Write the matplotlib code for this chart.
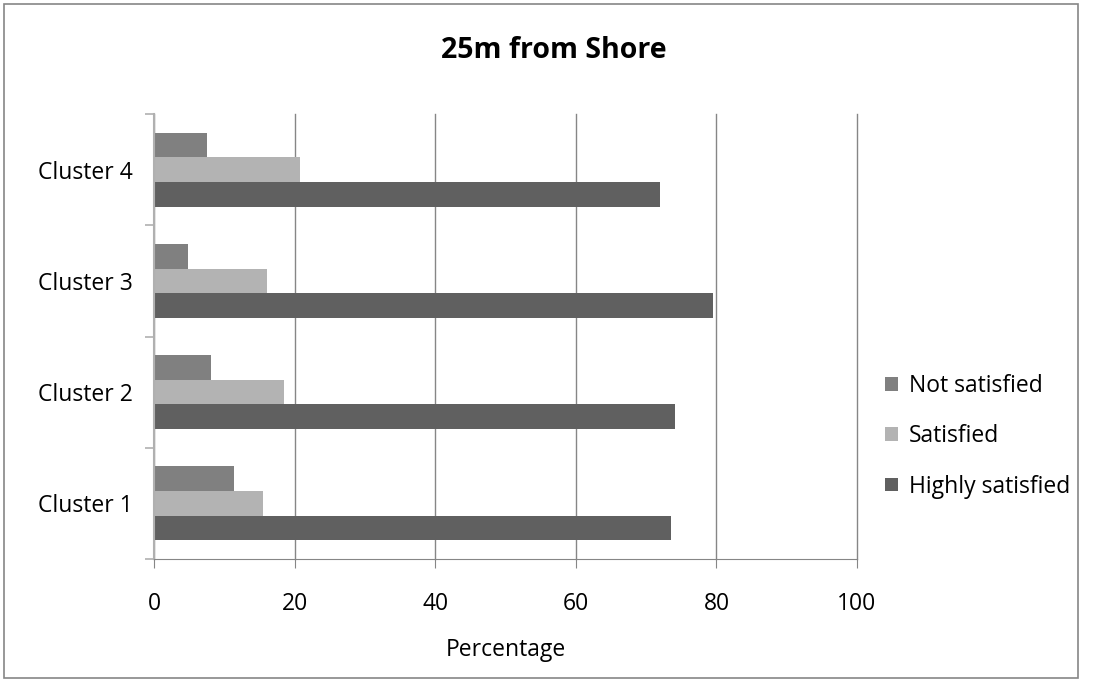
import matplotlib.pyplot as plt
import numpy as np
from matplotlib.patches import Rectangle

plt.rcParams['font.family'] = ['Open Sans', 'DejaVu Sans']

clusters = ['Cluster 1', 'Cluster 2', 'Cluster 3', 'Cluster 4']
not_satisfied = [11.4, 8.1, 4.8, 7.5]
satisfied = [15.5, 18.5, 16.1, 20.8]
highly_satisfied = [73.5, 74.1, 79.5, 72.0]
xticks = [0, 20, 40, 60, 80, 100]

fig = plt.figure(figsize=(10.94, 6.88), dpi=100)

# outer chart border
fig.patches.append(Rectangle((4 / 1094, 10 / 688), 1074 / 1094, 674 / 688,
                             transform=fig.transFigure, fill=False,
                             edgecolor='#868686', linewidth=1.2))

ax = fig.add_axes([0.1408, 0.1875, 0.6426, 0.6468])

y = np.arange(len(clusters))
h = 0.222
ax.barh(y + h, not_satisfied, height=h, color='#808080', label='Not satisfied')
ax.barh(y, satisfied, height=h, color='#b3b3b3', label='Satisfied')
ax.barh(y - h, highly_satisfied, height=h, color='#606060', label='Highly satisfied')

ax.set_xlim(0, 100)
ax.set_ylim(-0.5, 3.5)
ax.set_xticks(xticks)
ax.set_xticklabels([str(t) for t in xticks], fontsize=16.5)
ax.set_yticks(y)
ax.set_yticklabels(clusters, fontsize=16.5)
ax.set_yticks(np.arange(-0.5, 4.0, 1.0), minor=True)
ax.tick_params(axis='y', which='major', length=0, pad=15)
ax.tick_params(axis='y', which='minor', length=6.5, color='#b0b0b0', width=1.2)
ax.tick_params(axis='x', which='major', length=6.5, color='#868686', pad=17)

ax.grid(axis='x', color='#868686', linewidth=1)
for line in ax.xaxis.get_gridlines():
    line.set_clip_on(False)
ax.set_axisbelow(True)
for side in ['top', 'right']:
    ax.spines[side].set_visible(False)
ax.spines['left'].set_color('#b0b0b0')
ax.spines['left'].set_linewidth(1.5)
ax.spines['bottom'].set_color('#868686')

ax.set_xlabel('Percentage', fontsize=16.5, labelpad=16)
fig.text(0.506, 0.926, '25m from Shore', fontsize=20.5, fontweight='bold',
         ha='center', va='center')

handles, labels = ax.get_legend_handles_labels()
fig.legend(handles, labels, loc='center left', bbox_to_anchor=(0.809, 0.366),
           frameon=False, fontsize=16.5, handlelength=0.55, handleheight=0.55,
           labelspacing=1.15, handletextpad=0.5, borderpad=0, borderaxespad=0)

plt.savefig('out.png', dpi=100)
plt.close()
